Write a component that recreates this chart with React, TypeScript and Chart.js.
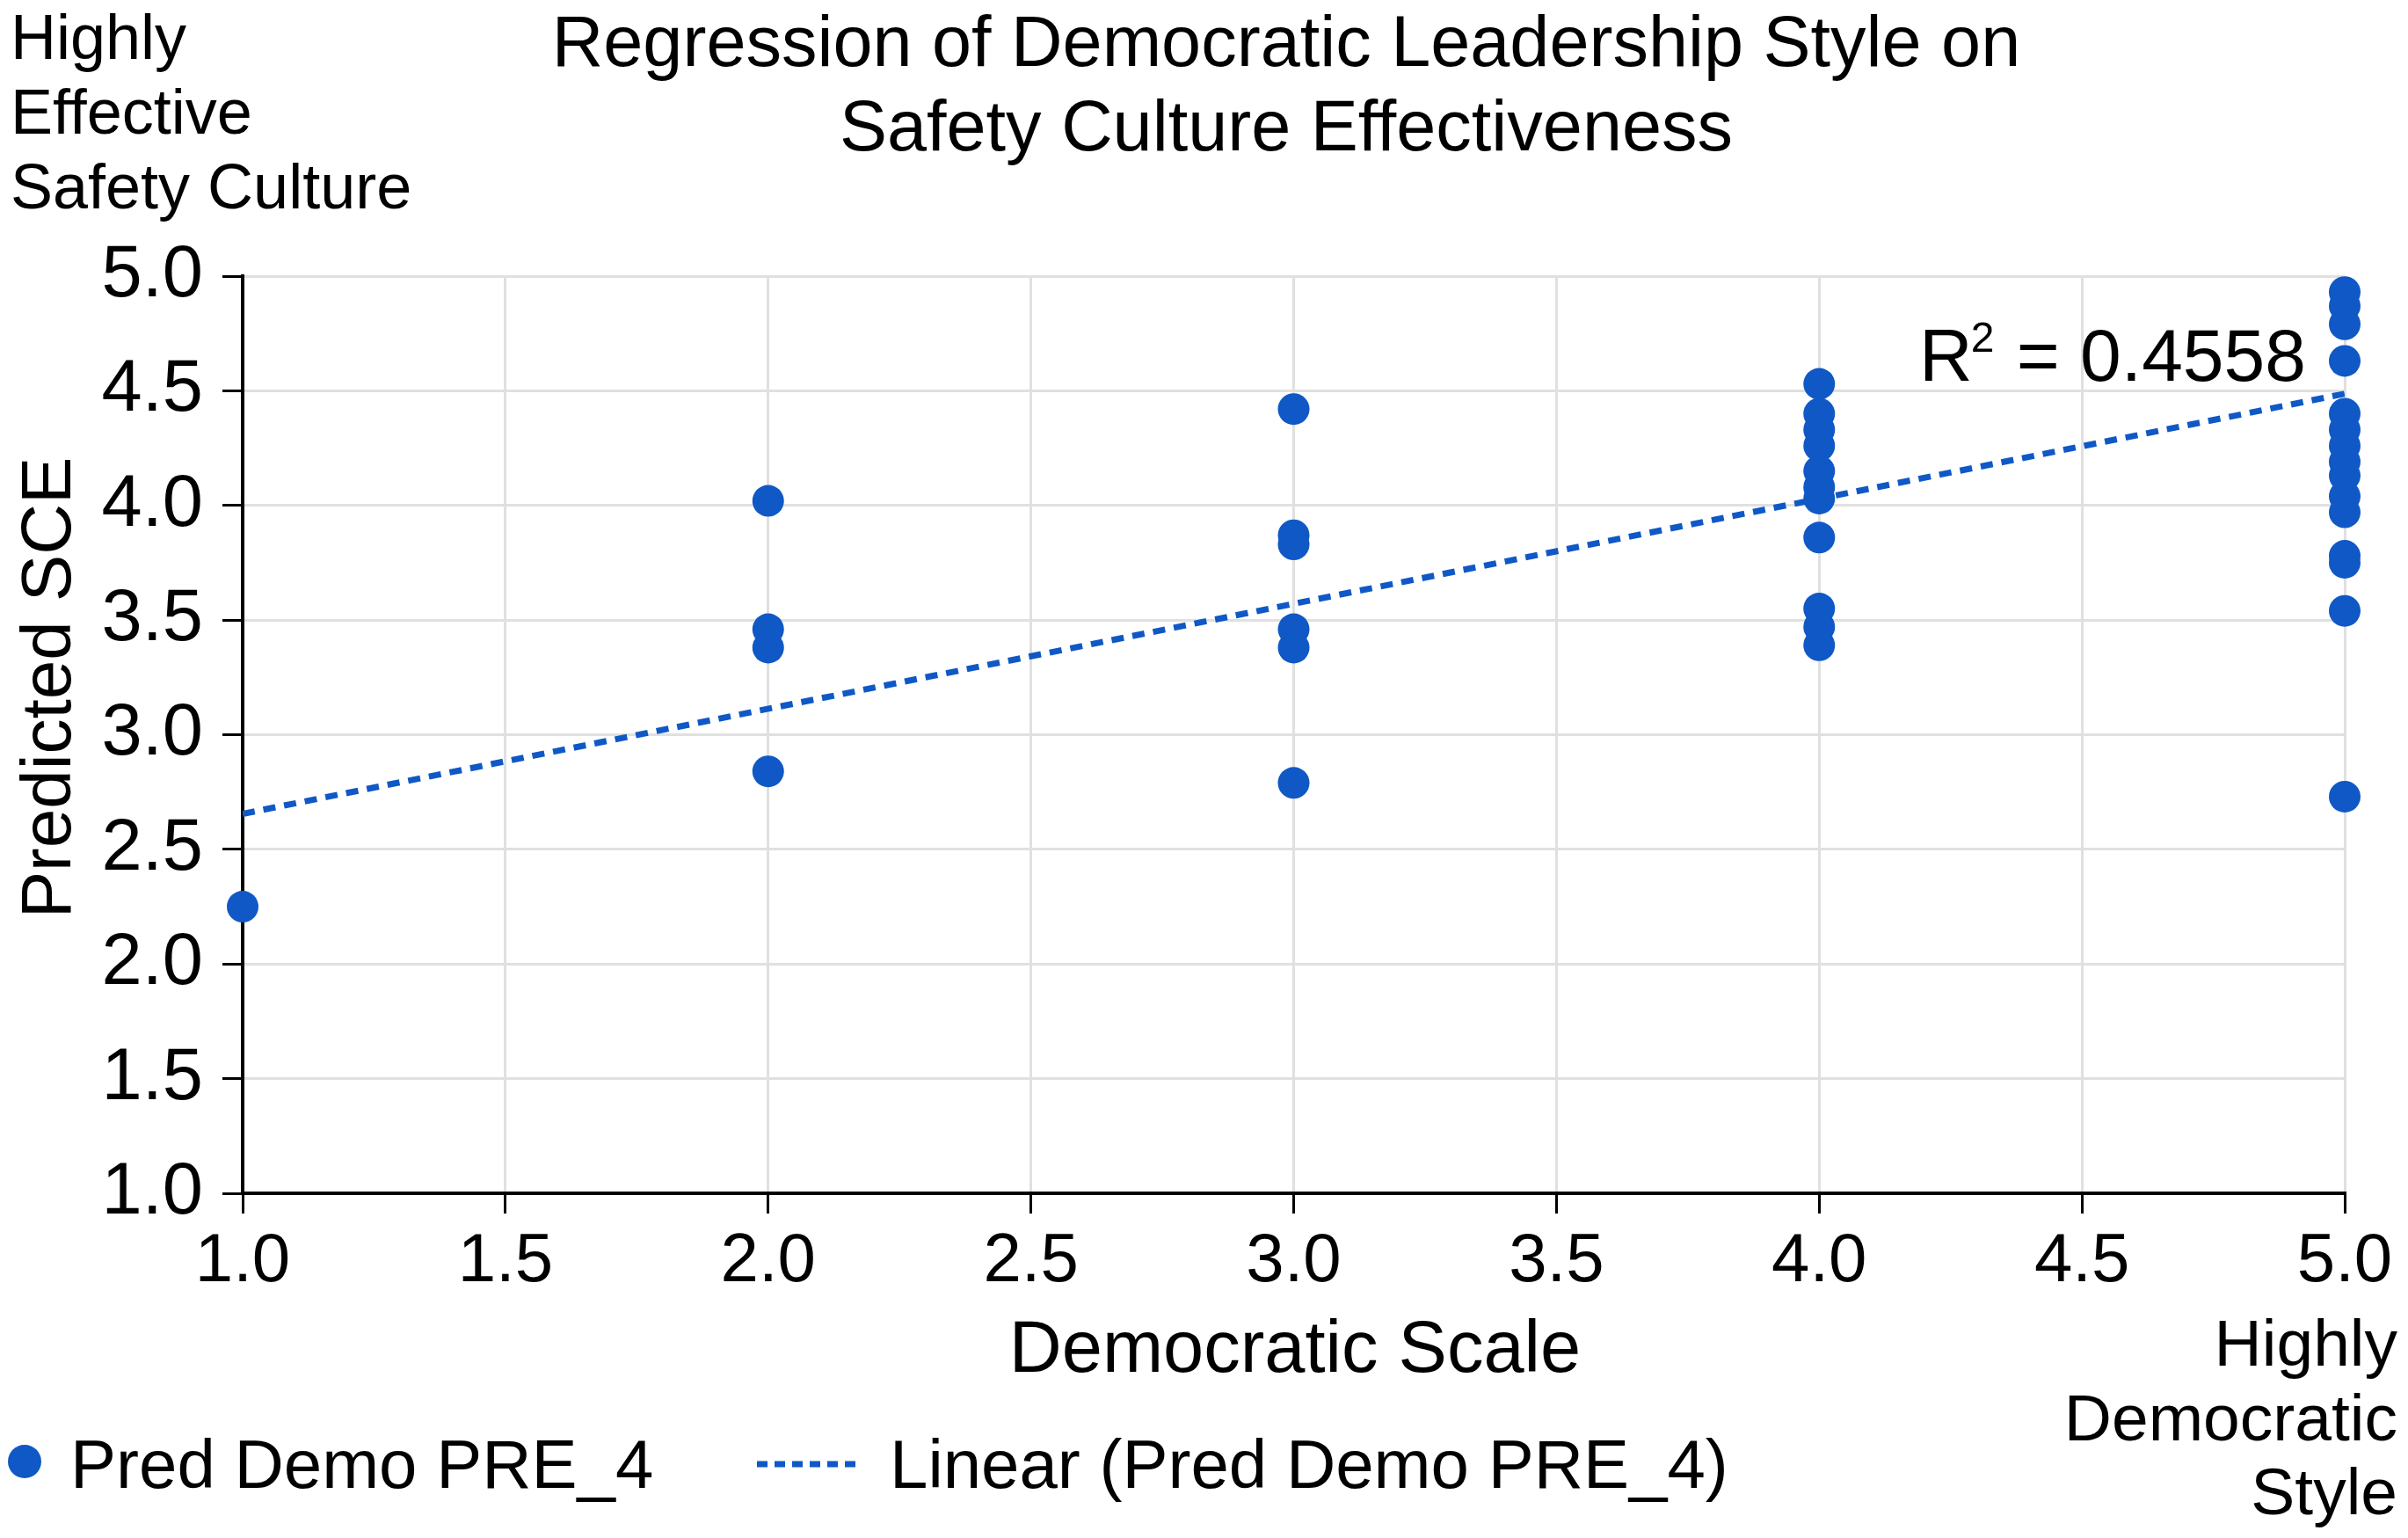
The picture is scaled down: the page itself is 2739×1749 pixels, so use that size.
import React, { useEffect, useRef } from "react";
import { Chart, registerables } from "chart.js";

Chart.register(...registerables);

// ---- data ----
const democraticLevels = [1, 2, 3, 4, 5];
const sceAt1 = [2.25];
const sceAt2 = [4.02, 3.46, 3.38, 2.84];
const sceAt3 = [4.42, 3.87, 3.83, 3.46, 3.38, 2.79];
const sceAt4 = [4.53, 4.4, 4.33, 4.26, 4.15, 4.08, 4.03, 3.86, 3.55, 3.47, 3.39];
const sceAt5 = [4.93, 4.87, 4.79, 4.63, 4.4, 4.33, 4.26, 4.19, 4.13, 4.04, 3.97, 3.78, 3.75, 3.54, 2.73];
const trendX = [1, 5];
const trendY = [2.655, 4.487];
const xTickValues = [1, 1.5, 2, 2.5, 3, 3.5, 4, 4.5, 5];
const yTickValues = [1, 1.5, 2, 2.5, 3, 3.5, 4, 4.5, 5];

const titleLines = ["Regression of Democratic Leadership Style on", "Safety Culture Effectiveness"];
const topLeftLines = ["Highly", "Effective", "Safety Culture"];
const bottomRightLines = ["Highly", "Democratic", "Style"];
const xTitle = "Democratic Scale";
const yTitle = "Predicted SCE";
const seriesName = "Pred Demo PRE_4";
const trendName = "Linear (Pred Demo PRE_4)";
const r2Value = "0.4558";

const BLUE = "#0F58C6";
const FONT = "'Liberation Sans', Arial, Helvetica, sans-serif";

const W = 2739;
const H = 1749;

export default function App() {
  const ref = useRef<HTMLCanvasElement | null>(null);

  useEffect(() => {
    const canvas = ref.current;
    if (!canvas) return;

    const groups = [sceAt1, sceAt2, sceAt3, sceAt4, sceAt5];
    const points: { x: number; y: number }[] = [];
    groups.forEach((g, i) => g.forEach((v) => points.push({ x: democraticLevels[i], y: v })));
    const trend = trendX.map((x, i) => ({ x, y: trendY[i] }));

    const textPlugin = {
      id: "texts",
      afterDraw(chart: any) {
        const ctx = chart.ctx as CanvasRenderingContext2D;
        ctx.save();
        ctx.fillStyle = "#000";
        ctx.textBaseline = "alphabetic";

        // Title
        ctx.font = `81px ${FONT}`;
        ctx.textAlign = "center";
        ctx.fillText(titleLines[0], 1463, 75);
        ctx.fillText(titleLines[1], 1463, 171);

        // top-left
        ctx.font = `72px ${FONT}`;
        ctx.textAlign = "left";
        [67, 152, 237].forEach((y, i) => ctx.fillText(topLeftLines[i], 12, y));

        // bottom-right
        ctx.font = `75px ${FONT}`;
        ctx.textAlign = "right";
        [1553, 1638, 1722].forEach((y, i) => ctx.fillText(bottomRightLines[i], 2727, y));

        // axis titles
        ctx.textAlign = "center";
        ctx.font = `83px ${FONT}`;
        ctx.fillText(xTitle, 1473, 1560);
        ctx.font = `80px ${FONT}`;
        ctx.save();
        ctx.translate(80, 782);
        ctx.rotate(-Math.PI / 2);
        ctx.fillText(yTitle, 0, 0);
        ctx.restore();

        // R^2 label
        ctx.textAlign = "left";
        ctx.font = `84px ${FONT}`;
        let x = 2183;
        ctx.fillText("R", x, 433);
        x += ctx.measureText("R").width;
        ctx.font = `48px ${FONT}`;
        ctx.fillText("2", x - 2, 400);
        x += ctx.measureText("2").width;
        ctx.font = `84px ${FONT}`;
        ctx.fillText(" = " + r2Value, x, 433);

        // legend
        ctx.fillStyle = BLUE;
        ctx.beginPath();
        ctx.arc(28, 1662, 19, 0, Math.PI * 2);
        ctx.fill();
        ctx.strokeStyle = BLUE;
        ctx.lineWidth = 7;
        ctx.setLineDash([12, 8]);
        ctx.beginPath();
        ctx.moveTo(861, 1665);
        ctx.lineTo(975, 1665);
        ctx.stroke();
        ctx.setLineDash([]);
        ctx.fillStyle = "#000";
        ctx.font = `78px ${FONT}`;
        ctx.fillText(seriesName, 80, 1692);
        ctx.fillText(trendName, 1012, 1692);
        ctx.restore();
      },
    };

    const chart = new Chart(canvas, {
      type: "scatter",
      data: {
        datasets: [
          {
            type: "line",
            label: trendName,
            data: trend,
            borderColor: BLUE,
            borderWidth: 7,
            borderDash: [14, 10],
            pointRadius: 0,
            fill: false,
            order: 2,
          } as any,
          {
            type: "scatter",
            label: seriesName,
            data: points,
            backgroundColor: BLUE,
            borderColor: BLUE,
            borderWidth: 0,
            pointRadius: 18,
            pointHoverRadius: 18,
            clip: false,
            order: 1,
          } as any,
        ],
      },
      options: {
        responsive: false,
        devicePixelRatio: 1,
        animation: false,
        events: [],
        layout: { padding: { top: 314, right: 72, left: 0, bottom: 0 } },
        plugins: {
          legend: { display: false },
          title: { display: false },
          tooltip: { enabled: false },
        },
        scales: {
          x: {
            type: "linear",
            min: 1,
            max: 5,
            afterBuildTicks: (scale: any) => {
              scale.ticks = xTickValues.map((v) => ({ value: v }));
            },
            afterFit: (scale: any) => {
              scale.height = H - 1357;
            },
            ticks: {
              color: "#000",
              font: { family: FONT, size: 78 },
              padding: 9,
              maxRotation: 0,
              callback: (v: any) => Number(v).toFixed(1),
            },
            grid: {
              color: "#e0e0e0",
              lineWidth: 3,
              tickLength: 23,
              tickColor: "#000",
              tickWidth: 3,
            },
            border: { color: "#000", width: 4 },
          },
          y: {
            type: "linear",
            min: 1,
            max: 5,
            afterBuildTicks: (scale: any) => {
              scale.ticks = yTickValues.map((v) => ({ value: v }));
            },
            afterFit: (scale: any) => {
              scale.width = 276;
            },
            ticks: {
              color: "#000",
              font: { family: FONT, size: 83 },
              padding: 22,
              callback: (v: any) => Number(v).toFixed(1),
            },
            grid: {
              color: "#e0e0e0",
              lineWidth: 3,
              tickLength: 23,
              tickColor: "#000",
              tickWidth: 3,
            },
            border: { color: "#000", width: 4 },
          },
        },
      },
      plugins: [textPlugin],
    });

    return () => chart.destroy();
  }, []);

  return (
    <div style={{ position: "absolute", left: 0, top: 0, width: W, height: H, background: "#fff" }}>
      <canvas ref={ref} width={W} height={H} style={{ display: "block", width: W, height: H }} />
    </div>
  );
}
